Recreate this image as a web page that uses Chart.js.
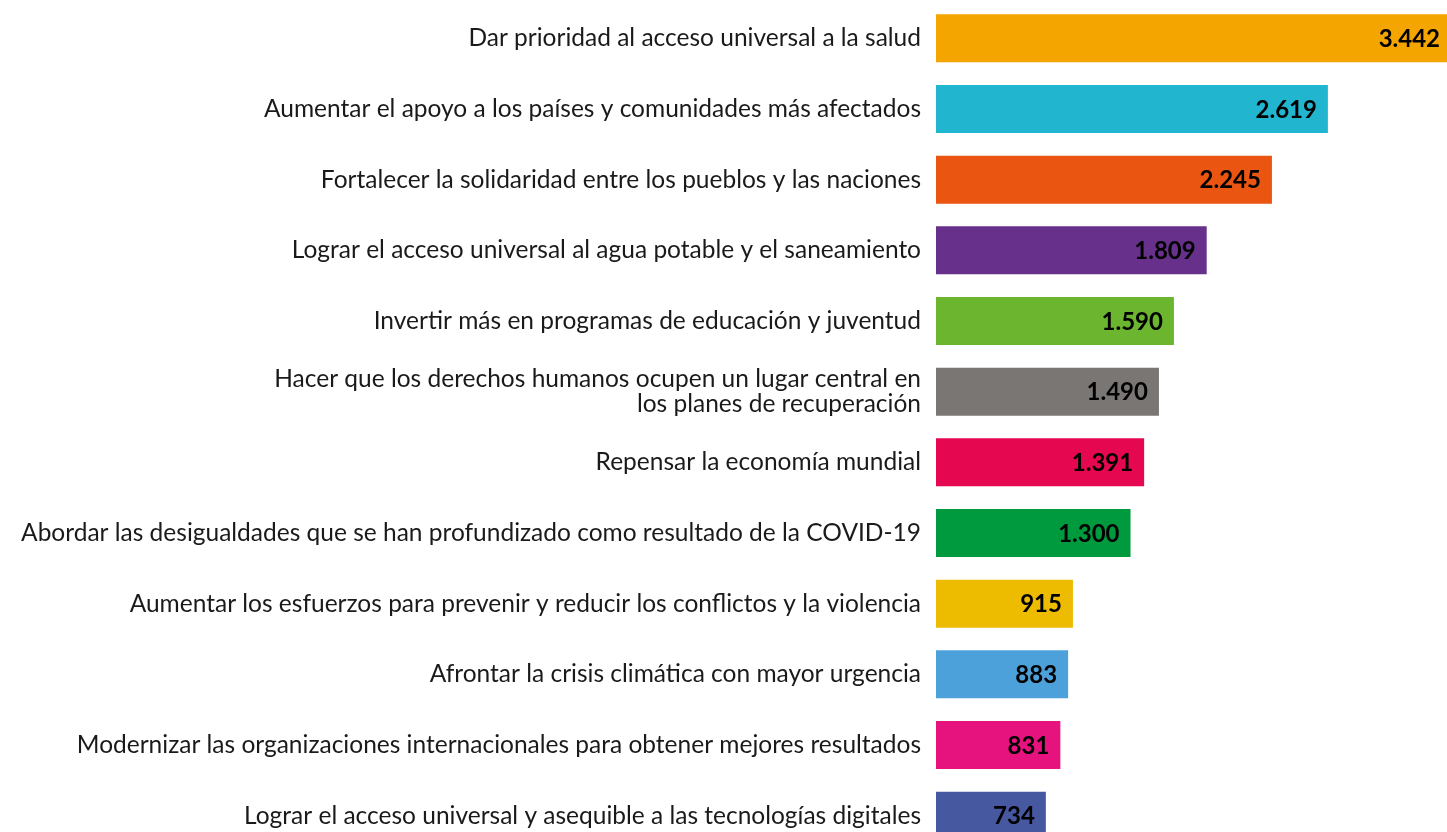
<!DOCTYPE html>
<html>
<head>
<meta charset="utf-8">
<script src="https://cdn.jsdelivr.net/npm/chart.js@4/dist/chart.umd.min.js"></script>
<style>
  html, body { margin: 0; padding: 0; background: #fff; overflow: hidden; }
  #wrap { width: 1447px; height: 851px; }
</style>
</head>
<body>
<div id="wrap"><canvas id="chart" width="1447" height="851"></canvas></div>
<script>
// Categories (top to bottom)
const labels = [
    'Dar prioridad al acceso universal a la salud',
    'Aumentar el apoyo a los países y comunidades más afectados',
    'Fortalecer la solidaridad entre los pueblos y las naciones',
    'Lograr el acceso universal al agua potable y el saneamiento',
    'Invertir más en programas de educación y juventud',
    ['Hacer que los derechos humanos ocupen un lugar central en', 'los planes de recuperación'],
    'Repensar la economía mundial',
    'Abordar las desigualdades que se han profundizado como resultado de la COVID-19',
    'Aumentar los esfuerzos para prevenir y reducir los conflictos y la violencia',
    'Afrontar la crisis climática con mayor urgencia',
    'Modernizar las organizaciones internacionales para obtener mejores resultados',
    'Lograr el acceso universal y asequible a las tecnologías digitales'
];
const votes = [3442, 2619, 2245, 1809, 1590, 1490, 1391, 1300, 915, 883, 831, 734];
const barColors = ['#F5A500', '#22B5D0', '#EA5512', '#67308A', '#6CB52F', '#7A7674',
    '#E5074F', '#009A3E', '#EDBB00', '#4DA1DB', '#E6137E', '#4658A0'];

// thousands separator with a dot, as in the original
function fmt(n) {
    return String(n).replace(/\B(?=(\d{3})+(?!\d))/g, '.');
}

// value printed inside the end of each bar
const valueLabels = {
    id: 'valueLabels',
    afterDatasetsDraw(chart) {
        const ctx = chart.ctx;
        const meta = chart.getDatasetMeta(0);
        ctx.save();
        ctx.font = 'bold 24px Lato';
        ctx.fillStyle = '#000';
        ctx.textAlign = 'right';
        ctx.textBaseline = 'middle';
        meta.data.forEach((bar, i) => {
            ctx.fillText(fmt(votes[i]), bar.x - 11, bar.y + 1);
        });
        ctx.restore();
    }
};

const ctx = document.getElementById('chart').getContext('2d');
new Chart(ctx, {
    type: 'bar',
    data: {
        labels: labels,
        datasets: [{
            data: votes,
            backgroundColor: barColors,
            borderWidth: 0,
            barPercentage: 0.68,
            categoryPercentage: 1
        }]
    },
    options: {
        indexAxis: 'y',
        responsive: false,
        animation: false,
        devicePixelRatio: 1,
        layout: { padding: { top: 3, right: 0, bottom: 0, left: 0 } },
        plugins: {
            legend: { display: false },
            tooltip: { enabled: false }
        },
        scales: {
            x: {
                display: false,
                min: 0,
                max: 3415
            },
            y: {
                grid: { display: false, drawTicks: false },
                border: { display: false },
                afterFit(scale) {
                    scale.width = 936;
                    scale.paddingTop = 0;
                    scale.paddingBottom = 0;
                },
                ticks: {
                    padding: 15,
                    color: '#1a1a1a',
                    font: { family: 'Lato', size: 24.5, lineHeight: 1.03 }
                }
            }
        }
    },
    plugins: [valueLabels]
});
</script>
</body>
</html>
